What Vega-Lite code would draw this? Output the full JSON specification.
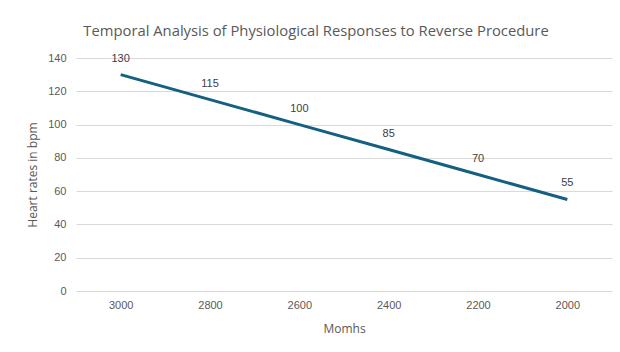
{
  "$schema": "https://vega.github.io/schema/vega-lite/v6.json",
  "width": 536,
  "height": 233,
  "autosize": {"type": "none"},
  "padding": {"left": 76, "top": 58, "right": 8, "bottom": 61},
  "background": "white",
  "title": {
    "text": "Temporal Analysis of Physiological Responses to Reverse Procedure",
    "font": "Open Sans",
    "fontSize": 14.8,
    "fontWeight": "normal",
    "color": "#595959",
    "anchor": "middle",
    "dx": -28,
    "offset": 13
  },
  "data": {
    "values": [
      {"month": "3000", "bpm": 130},
      {"month": "2800", "bpm": 115},
      {"month": "2600", "bpm": 100},
      {"month": "2400", "bpm": 85},
      {"month": "2200", "bpm": 70},
      {"month": "2000", "bpm": 55}
    ]
  },
  "encoding": {
    "x": {
      "field": "month",
      "type": "ordinal",
      "sort": null,
      "title": "Momhs",
      "axis": {
        "labelAngle": 0,
        "domain": false,
        "ticks": false,
        "labelPadding": 8,
        "titlePadding": 13,
        "labelFont": "Liberation Sans",
        "labelFontSize": 11,
        "labelColor": "#595959",
        "titleFont": "Open Sans",
        "titleFontSize": 12,
        "titleFontWeight": "normal",
        "titleColor": "#595959"
      }
    },
    "y": {
      "field": "bpm",
      "type": "quantitative",
      "scale": {"domain": [0, 140]},
      "title": "Heart rates in bpm",
      "axis": {
        "values": [0, 20, 40, 60, 80, 100, 120, 140],
        "domain": false,
        "ticks": false,
        "labelPadding": 10,
        "titlePadding": 8,
        "gridColor": "#d9d9d9",
        "labelFont": "Liberation Sans",
        "labelFontSize": 11,
        "labelColor": "#595959",
        "titleFont": "Open Sans",
        "titleFontSize": 12,
        "titleFontWeight": "normal",
        "titleColor": "#595959"
      }
    }
  },
  "layer": [
    {
      "mark": {"type": "line", "color": "#156082", "strokeWidth": 3}
    },
    {
      "mark": {"type": "text", "dy": -16, "font": "Liberation Sans", "fontSize": 11, "color": "#404040"},
      "encoding": {"text": {"field": "bpm", "type": "quantitative"}}
    }
  ],
  "config": {
    "view": {"stroke": null},
    "scale": {"bandPaddingInner": 0, "bandPaddingOuter": 0}
  }
}
